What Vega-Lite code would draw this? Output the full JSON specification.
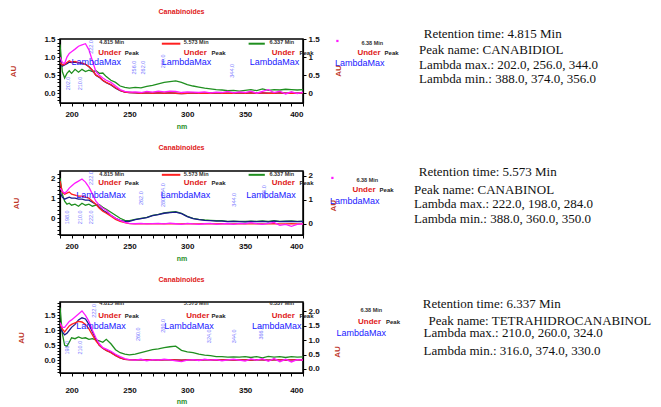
{
"$schema": "https://vega.github.io/schema/vega-lite/v6.json",
"padding": {"left": 9, "top": 7, "right": 0, "bottom": 0},
"spacing": 13,
"config": {
  "view": {"stroke": null},
  "axis": {"labelFont": "Liberation Sans", "labelFontWeight": "bold", "labelFontSize": 8, "labelColor": "#111", "tickColor": "#000", "domainColor": "#000", "domainWidth": 1.2, "grid": false, "tickSize": 3, "titleFont": "Liberation Sans", "labelPadding": 2},
  "title": {"font": "Liberation Sans"}
},
"datasets": {
  "spec": [
{"p":1,"x":190,"g":1.35,"n":0.9,"r":0.85,"m":1.0},{"p":1,"x":192,"g":0.6,"n":0.75,"r":0.78,"m":0.85},{"p":1,"x":194,"g":0.42,"n":0.78,"r":0.8,"m":0.82},{"p":1,"x":196,"g":0.55,"n":0.82,"r":0.85,"m":1.0},{"p":1,"x":198,"g":0.62,"n":0.86,"r":0.9,"m":1.1},{"p":1,"x":200,"g":0.55,"n":0.85,"r":0.86,"m":1.15},{"p":1,"x":203,"g":0.66,"n":0.86,"r":0.88,"m":1.22},{"p":1,"x":206,"g":0.58,"n":0.84,"r":0.85,"m":1.3},{"p":1,"x":209,"g":0.66,"n":0.82,"r":0.84,"m":1.34},{"p":1,"x":212,"g":0.6,"n":0.8,"r":0.8,"m":1.37},{"p":1,"x":215,"g":0.64,"n":0.73,"r":0.74,"m":1.2},{"p":1,"x":218,"g":0.6,"n":0.63,"r":0.64,"m":0.9},{"p":1,"x":221,"g":0.62,"n":0.5,"r":0.5,"m":0.6},{"p":1,"x":224,"g":0.55,"n":0.44,"r":0.45,"m":0.5},{"p":1,"x":227,"g":0.56,"n":0.35,"r":0.36,"m":0.42},{"p":1,"x":230,"g":0.46,"n":0.29,"r":0.3,"m":0.36},{"p":1,"x":234,"g":0.36,"n":0.23,"r":0.24,"m":0.3},{"p":1,"x":238,"g":0.3,"n":0.14,"r":0.15,"m":0.2},{"p":1,"x":242,"g":0.2,"n":0.07,"r":0.08,"m":0.1},{"p":1,"x":246,"g":0.16,"n":0.03,"r":0.03,"m":0.05},{"p":1,"x":250,"g":0.14,"n":0.02,"r":0.02,"m":0.03},{"p":1,"x":255,"g":0.16,"n":0.01,"r":0.01,"m":0.04},{"p":1,"x":260,"g":0.15,"n":0.0,"r":0.0,"m":0.02},{"p":1,"x":265,"g":0.19,"n":0.01,"r":0.01,"m":0.05},{"p":1,"x":270,"g":0.22,"n":0.0,"r":0.0,"m":0.03},{"p":1,"x":275,"g":0.26,"n":0.01,"r":0.01,"m":0.06},{"p":1,"x":280,"g":0.3,"n":0.0,"r":0.0,"m":0.04},{"p":1,"x":285,"g":0.32,"n":0.01,"r":0.01,"m":0.06},{"p":1,"x":290,"g":0.34,"n":0.0,"r":0.0,"m":0.05},{"p":1,"x":295,"g":0.3,"n":-0.01,"r":-0.01,"m":0.02},{"p":1,"x":300,"g":0.24,"n":0.0,"r":0.0,"m":0.04},{"p":1,"x":305,"g":0.2,"n":0.01,"r":0.01,"m":0.03},{"p":1,"x":310,"g":0.17,"n":0.0,"r":0.0,"m":0.02},{"p":1,"x":315,"g":0.14,"n":0.0,"r":0.0,"m":0.04},{"p":1,"x":320,"g":0.12,"n":0.0,"r":0.0,"m":0.01},{"p":1,"x":325,"g":0.1,"n":0.01,"r":0.01,"m":0.03},{"p":1,"x":330,"g":0.09,"n":0.0,"r":0.0,"m":0.02},{"p":1,"x":335,"g":0.07,"n":0.0,"r":0.0,"m":0.05},{"p":1,"x":340,"g":0.08,"n":0.0,"r":0.0,"m":0.01},{"p":1,"x":345,"g":0.06,"n":0.01,"r":0.01,"m":0.04},{"p":1,"x":350,"g":0.08,"n":0.0,"r":0.0,"m":0.02},{"p":1,"x":355,"g":0.1,"n":0.01,"r":0.01,"m":0.06},{"p":1,"x":360,"g":0.07,"n":0.0,"r":0.0,"m":0.0},{"p":1,"x":365,"g":0.12,"n":0.01,"r":0.01,"m":0.05},{"p":1,"x":370,"g":0.08,"n":0.0,"r":0.0,"m":0.1},{"p":1,"x":375,"g":0.1,"n":0.0,"r":0.0,"m":0.02},{"p":1,"x":380,"g":0.09,"n":0.01,"r":0.01,"m":0.06},{"p":1,"x":385,"g":0.11,"n":0.0,"r":0.0,"m":-0.02},{"p":1,"x":390,"g":0.1,"n":0.0,"r":0.0,"m":0.04},{"p":1,"x":395,"g":0.09,"n":0.0,"r":0.0,"m":-0.01},{"p":1,"x":400,"g":0.1,"n":0.01,"r":0.01,"m":0.03},
{"p":2,"x":190,"g":2.0,"n":1.3,"r":1.85,"m":1.5},{"p":2,"x":192,"g":1.2,"n":1.05,"r":1.3,"m":1.35},{"p":2,"x":194,"g":0.85,"n":0.95,"r":1.2,"m":1.24},{"p":2,"x":196,"g":0.7,"n":1.0,"r":1.25,"m":1.35},{"p":2,"x":198,"g":0.75,"n":1.05,"r":1.3,"m":1.5},{"p":2,"x":200,"g":0.65,"n":1.0,"r":1.2,"m":1.6},{"p":2,"x":203,"g":0.7,"n":1.0,"r":1.15,"m":1.75},{"p":2,"x":206,"g":0.6,"n":0.95,"r":1.1,"m":1.85},{"p":2,"x":209,"g":0.75,"n":0.95,"r":1.1,"m":1.95},{"p":2,"x":212,"g":0.65,"n":0.9,"r":1.05,"m":1.8},{"p":2,"x":215,"g":0.7,"n":0.9,"r":1.0,"m":1.55},{"p":2,"x":218,"g":0.6,"n":0.8,"r":0.85,"m":1.2},{"p":2,"x":221,"g":0.65,"n":0.7,"r":0.7,"m":0.85},{"p":2,"x":224,"g":0.68,"n":0.55,"r":0.5,"m":0.65},{"p":2,"x":227,"g":0.55,"n":0.4,"r":0.35,"m":0.5},{"p":2,"x":230,"g":0.45,"n":0.3,"r":0.25,"m":0.4},{"p":2,"x":234,"g":0.3,"n":0.15,"r":0.1,"m":0.15},{"p":2,"x":238,"g":0.15,"n":0.0,"r":-0.05,"m":0.0},{"p":2,"x":242,"g":0.0,"n":-0.1,"r":-0.15,"m":-0.1},{"p":2,"x":246,"g":-0.1,"n":-0.15,"r":-0.22,"m":-0.2},{"p":2,"x":250,"g":-0.12,"n":-0.15,"r":-0.26,"m":-0.25},{"p":2,"x":255,"g":-0.05,"n":-0.07,"r":-0.27,"m":-0.27},{"p":2,"x":260,"g":0.0,"n":-0.02,"r":-0.27,"m":-0.25},{"p":2,"x":265,"g":0.05,"n":0.03,"r":-0.28,"m":-0.28},{"p":2,"x":270,"g":0.15,"n":0.13,"r":-0.27,"m":-0.26},{"p":2,"x":275,"g":0.2,"n":0.18,"r":-0.27,"m":-0.25},{"p":2,"x":280,"g":0.27,"n":0.25,"r":-0.28,"m":-0.28},{"p":2,"x":285,"g":0.3,"n":0.28,"r":-0.27,"m":-0.24},{"p":2,"x":290,"g":0.33,"n":0.31,"r":-0.28,"m":-0.27},{"p":2,"x":295,"g":0.25,"n":0.23,"r":-0.28,"m":-0.3},{"p":2,"x":300,"g":0.1,"n":0.08,"r":-0.27,"m":-0.25},{"p":2,"x":305,"g":0.0,"n":-0.02,"r":-0.28,"m":-0.28},{"p":2,"x":310,"g":-0.05,"n":-0.07,"r":-0.28,"m":-0.3},{"p":2,"x":315,"g":-0.08,"n":-0.1,"r":-0.27,"m":-0.27},{"p":2,"x":320,"g":-0.1,"n":-0.12,"r":-0.28,"m":-0.25},{"p":2,"x":325,"g":-0.12,"n":-0.14,"r":-0.28,"m":-0.3},{"p":2,"x":330,"g":-0.12,"n":-0.14,"r":-0.27,"m":-0.28},{"p":2,"x":335,"g":-0.15,"n":-0.17,"r":-0.28,"m":-0.26},{"p":2,"x":340,"g":-0.14,"n":-0.16,"r":-0.28,"m":-0.3},{"p":2,"x":345,"g":-0.15,"n":-0.17,"r":-0.27,"m":-0.25},{"p":2,"x":350,"g":-0.16,"n":-0.18,"r":-0.28,"m":-0.28},{"p":2,"x":355,"g":-0.14,"n":-0.16,"r":-0.28,"m":-0.22},{"p":2,"x":360,"g":-0.15,"n":-0.17,"r":-0.27,"m":-0.27},{"p":2,"x":365,"g":-0.13,"n":-0.15,"r":-0.28,"m":-0.3},{"p":2,"x":370,"g":-0.16,"n":-0.18,"r":-0.28,"m":-0.25},{"p":2,"x":375,"g":-0.12,"n":-0.14,"r":-0.27,"m":-0.2},{"p":2,"x":380,"g":-0.15,"n":-0.17,"r":-0.28,"m":-0.35},{"p":2,"x":385,"g":-0.14,"n":-0.16,"r":-0.28,"m":-0.3},{"p":2,"x":390,"g":-0.13,"n":-0.15,"r":-0.27,"m":-0.4},{"p":2,"x":395,"g":-0.15,"n":-0.17,"r":-0.28,"m":-0.3},{"p":2,"x":400,"g":-0.14,"n":-0.16,"r":-0.28,"m":-0.28},
{"p":3,"x":190,"g":1.76,"n":1.1,"r":1.2,"m":1.26},{"p":3,"x":192,"g":0.9,"n":0.95,"r":1.05,"m":1.1},{"p":3,"x":194,"g":0.5,"n":0.85,"r":0.95,"m":1.1},{"p":3,"x":196,"g":0.47,"n":0.9,"r":1.05,"m":1.2},{"p":3,"x":198,"g":0.6,"n":1.0,"r":1.15,"m":1.3},{"p":3,"x":200,"g":0.75,"n":1.1,"r":1.2,"m":1.35},{"p":3,"x":203,"g":0.72,"n":1.2,"r":1.25,"m":1.45},{"p":3,"x":206,"g":0.78,"n":1.35,"r":1.3,"m":1.55},{"p":3,"x":209,"g":0.73,"n":1.42,"r":1.28,"m":1.65},{"p":3,"x":212,"g":0.75,"n":1.38,"r":1.2,"m":1.5},{"p":3,"x":215,"g":0.7,"n":1.2,"r":1.05,"m":1.3},{"p":3,"x":218,"g":0.72,"n":0.95,"r":0.85,"m":1.0},{"p":3,"x":221,"g":0.68,"n":0.7,"r":0.65,"m":0.75},{"p":3,"x":224,"g":0.65,"n":0.5,"r":0.5,"m":0.55},{"p":3,"x":227,"g":0.6,"n":0.4,"r":0.4,"m":0.42},{"p":3,"x":230,"g":0.7,"n":0.33,"r":0.33,"m":0.37},{"p":3,"x":234,"g":0.55,"n":0.26,"r":0.25,"m":0.3},{"p":3,"x":238,"g":0.35,"n":0.16,"r":0.15,"m":0.2},{"p":3,"x":242,"g":0.25,"n":0.08,"r":0.08,"m":0.12},{"p":3,"x":246,"g":0.2,"n":0.03,"r":0.03,"m":0.05},{"p":3,"x":250,"g":0.18,"n":0.02,"r":0.01,"m":0.02},{"p":3,"x":255,"g":0.2,"n":0.01,"r":0.01,"m":0.0},{"p":3,"x":260,"g":0.25,"n":0.02,"r":0.02,"m":0.03},{"p":3,"x":265,"g":0.3,"n":0.01,"r":0.01,"m":-0.02},{"p":3,"x":270,"g":0.35,"n":0.01,"r":0.01,"m":0.02},{"p":3,"x":275,"g":0.38,"n":0.0,"r":0.0,"m":0.0},{"p":3,"x":280,"g":0.42,"n":0.01,"r":0.01,"m":0.03},{"p":3,"x":285,"g":0.45,"n":0.02,"r":0.02,"m":0.01},{"p":3,"x":290,"g":0.47,"n":0.01,"r":0.01,"m":-0.02},{"p":3,"x":295,"g":0.33,"n":0.0,"r":0.0,"m":-0.05},{"p":3,"x":300,"g":0.28,"n":0.01,"r":0.01,"m":0.0},{"p":3,"x":305,"g":0.25,"n":0.01,"r":0.01,"m":0.02},{"p":3,"x":310,"g":0.2,"n":0.0,"r":0.0,"m":-0.01},{"p":3,"x":315,"g":0.17,"n":0.01,"r":0.01,"m":0.03},{"p":3,"x":320,"g":0.15,"n":0.01,"r":0.01,"m":0.0},{"p":3,"x":325,"g":0.12,"n":0.0,"r":0.0,"m":0.02},{"p":3,"x":330,"g":0.12,"n":0.01,"r":0.01,"m":-0.02},{"p":3,"x":335,"g":0.1,"n":0.01,"r":0.01,"m":0.01},{"p":3,"x":340,"g":0.11,"n":0.0,"r":0.0,"m":0.03},{"p":3,"x":345,"g":0.1,"n":0.01,"r":0.01,"m":0.0},{"p":3,"x":350,"g":0.12,"n":0.01,"r":0.01,"m":-0.03},{"p":3,"x":355,"g":0.09,"n":0.0,"r":0.0,"m":0.04},{"p":3,"x":360,"g":0.12,"n":0.01,"r":0.01,"m":0.0},{"p":3,"x":365,"g":0.08,"n":0.01,"r":0.01,"m":0.05},{"p":3,"x":370,"g":0.13,"n":0.0,"r":0.0,"m":-0.04},{"p":3,"x":375,"g":0.1,"n":0.01,"r":0.01,"m":0.06},{"p":3,"x":380,"g":0.12,"n":0.01,"r":0.01,"m":-0.05},{"p":3,"x":385,"g":0.09,"n":0.0,"r":0.0,"m":0.03},{"p":3,"x":390,"g":0.12,"n":0.01,"r":0.01,"m":-0.06},{"p":3,"x":395,"g":0.1,"n":0.01,"r":0.01,"m":0.02},{"p":3,"x":400,"g":0.11,"n":0.0,"r":0.0,"m":0.0}
  ],
  "leg": [
{"p":1,"s":"r","x":278,"x2":294,"v":1.37},{"p":1,"s":"g","x":353,"x2":367,"v":1.37},
{"p":2,"s":"r","x":278,"x2":294,"v":2.16},{"p":2,"s":"g","x":353,"x2":367,"v":2.16}
  ],
  "ann": [
{"p":1,"k":"tm","x":224,"v":1.42,"t":"4.815 Min"},{"p":1,"k":"tm","x":297,"v":1.42,"t":"5.573 Min"},{"p":1,"k":"tm","x":371,"v":1.42,"t":"6.337 Min"},
{"p":1,"k":"und","x":223,"v":1.1,"t":"Under"},{"p":1,"k":"und","x":297,"v":1.1,"t":"Under"},{"p":1,"k":"und","x":373,"v":1.1,"t":"Under"},
{"p":1,"k":"pk","x":246,"v":1.1,"t":"Peak"},{"p":1,"k":"pk","x":321,"v":1.1,"t":"Peak"},{"p":1,"k":"pk","x":397,"v":1.1,"t":"Peak"},
{"p":1,"k":"lam","x":200,"v":0.86,"t":"LambdaMax"},{"p":1,"k":"lam","x":278,"v":0.86,"t":"LambdaMax"},{"p":1,"k":"lam","x":354,"v":0.86,"t":"LambdaMax"},
{"p":1,"k":"wl","x":197,"v":0.27,"t":"202.0"},{"p":1,"k":"wl","x":207,"v":0.27,"t":"210.0"},{"p":1,"k":"wl","x":217,"v":1.28,"t":"222.0"},{"p":1,"k":"wl","x":254,"v":0.71,"t":"256.0"},{"p":1,"k":"wl","x":262,"v":0.71,"t":"262.0"},{"p":1,"k":"wl","x":279,"v":0.88,"t":"280.0"},{"p":1,"k":"wl","x":339,"v":0.62,"t":"344.0"},
{"p":2,"k":"tm","x":224,"v":2.22,"t":"4.815 Min"},{"p":2,"k":"tm","x":297,"v":2.22,"t":"5.573 Min"},{"p":2,"k":"tm","x":371,"v":2.22,"t":"6.337 Min"},
{"p":2,"k":"und","x":223,"v":1.75,"t":"Under"},{"p":2,"k":"und","x":297,"v":1.75,"t":"Under"},{"p":2,"k":"und","x":373,"v":1.75,"t":"Under"},
{"p":2,"k":"pk","x":246,"v":1.75,"t":"Peak"},{"p":2,"k":"pk","x":321,"v":1.75,"t":"Peak"},{"p":2,"k":"pk","x":397,"v":1.75,"t":"Peak"},
{"p":2,"k":"lam","x":204,"v":1.16,"t":"LambdaMax"},{"p":2,"k":"lam","x":277,"v":1.16,"t":"LambdaMax"},{"p":2,"k":"lam","x":351,"v":1.16,"t":"LambdaMax"},
{"p":2,"k":"wl","x":196,"v":0.05,"t":"198.0"},{"p":2,"k":"wl","x":207,"v":0.05,"t":"210.0"},{"p":2,"k":"wl","x":217,"v":2.0,"t":"222.0"},{"p":2,"k":"wl","x":217,"v":0.05,"t":"222.0"},{"p":2,"k":"wl","x":260,"v":1.0,"t":"262.0"},{"p":2,"k":"wl","x":279,"v":1.4,"t":"284.0"},{"p":2,"k":"wl","x":279,"v":0.9,"t":"280.0"},{"p":2,"k":"wl","x":340,"v":0.92,"t":"344.0"},{"p":2,"k":"wl","x":366,"v":1.3,"t":"366.0"},
{"p":3,"k":"tm","x":224,"v":1.91,"t":"4.815 Min"},{"p":3,"k":"tm","x":297,"v":1.91,"t":"5.573 Min"},{"p":3,"k":"tm","x":371,"v":1.91,"t":"6.337 Min"},
{"p":3,"k":"und","x":223,"v":1.48,"t":"Under"},{"p":3,"k":"und","x":299,"v":1.48,"t":"Under"},{"p":3,"k":"und","x":373,"v":1.48,"t":"Under"},
{"p":3,"k":"pk","x":246,"v":1.48,"t":"Peak"},{"p":3,"k":"pk","x":321,"v":1.48,"t":"Peak"},{"p":3,"k":"pk","x":397,"v":1.48,"t":"Peak"},
{"p":3,"k":"lam","x":204,"v":1.15,"t":"LambdaMax"},{"p":3,"k":"lam","x":280,"v":1.15,"t":"LambdaMax"},{"p":3,"k":"lam","x":356,"v":1.15,"t":"LambdaMax"},
{"p":3,"k":"wl","x":196,"v":0.42,"t":"198.0"},{"p":3,"k":"wl","x":207,"v":0.42,"t":"210.0"},{"p":3,"k":"wl","x":219,"v":1.65,"t":"222.0"},{"p":3,"k":"wl","x":257,"v":0.87,"t":"260.0"},{"p":3,"k":"wl","x":279,"v":1.15,"t":"280.0"},{"p":3,"k":"wl","x":319,"v":0.8,"t":"324.0"},{"p":3,"k":"wl","x":340,"v":0.8,"t":"344.0"},{"p":3,"k":"wl","x":364,"v":0.92,"t":"366.0"}
  ],
  "info": [
{"p":1,"k":"info","c":1.11,"l":1.0,"t":"Retention time: 4.815 Min"},{"p":1,"k":"info","c":1.05,"l":2.05,"t":"Peak name: CANABIDIOL"},{"p":1,"k":"info","c":1.05,"l":3.03,"t":"Lambda max.: 202.0, 256.0, 344.0"},{"p":1,"k":"info","c":1.05,"l":4.01,"t":"Lambda min.: 388.0, 374.0, 356.0"},
{"p":1,"k":"dot","c":0.03,"l":1.46,"t":""},{"p":1,"k":"tm","c":0.33,"l":1.6,"t":"6.38 Min"},{"p":1,"k":"und","c":0.28,"l":2.25,"t":"Under"},{"p":1,"k":"pk","c":0.62,"l":2.25,"t":"Peak"},{"p":1,"k":"lam","c":0.0,"l":2.9,"t":"LambdaMax"},{"p":1,"k":"sq","c":0.05,"l":3.45,"t":"AU"},
{"p":2,"k":"info","c":1.11,"l":1.0,"t":"Retention time: 5.573 Min"},{"p":2,"k":"info","c":1.05,"l":2.18,"t":"Peak name: CANABINOL"},{"p":2,"k":"info","c":1.05,"l":3.16,"t":"Lambda max.: 222.0, 198.0, 284.0"},{"p":2,"k":"info","c":1.05,"l":4.14,"t":"Lambda min.: 388.0, 360.0, 350.0"},
{"p":2,"k":"dot","c":0.03,"l":1.4,"t":""},{"p":2,"k":"tm","c":0.33,"l":1.53,"t":"6.38 Min"},{"p":2,"k":"und","c":0.28,"l":2.18,"t":"Under"},{"p":2,"k":"pk","c":0.62,"l":2.18,"t":"Peak"},{"p":2,"k":"lam","c":0.0,"l":2.96,"t":"LambdaMax"},{"p":2,"k":"sq","c":0.05,"l":3.25,"t":"AU"},
{"p":3,"k":"info","c":1.11,"l":1.07,"t":"Retention time: 6.337 Min"},{"p":3,"k":"info","c":1.18,"l":2.18,"t":"Peak name: TETRAHIDROCANABINOL"},{"p":3,"k":"info","c":1.12,"l":2.96,"t":"Lambda max.: 210.0, 260.0, 324.0"},{"p":3,"k":"info","c":1.12,"l":4.14,"t":"Lambda min.: 316.0, 374.0, 330.0"},
{"p":3,"k":"tm","c":0.33,"l":1.46,"t":"6.38 Min"},{"p":3,"k":"und","c":0.3,"l":2.25,"t":"Under"},{"p":3,"k":"pk","c":0.65,"l":2.25,"t":"Peak"},{"p":3,"k":"lam","c":0.03,"l":2.96,"t":"LambdaMax"},{"p":3,"k":"sq","c":0.05,"l":4.2,"t":"AU"}
  ]
},
"vconcat": [
 {"hconcat": [
  {"width": 243, "height": 64,
   "view": {"stroke": "black", "strokeWidth": 1.5},
   "title": {"text": "Canabinoides", "color": "#e02020", "fontSize": 7, "fontWeight": "bold", "offset": 20},
   "layer": [
    {"encoding": {
      "x": {"field": "x", "type": "quantitative", "scale": {"domain": [190, 400], "nice": false, "zero": false},
            "axis": {"title": "nm", "titleColor": "#1f8f1f", "titleFontSize": 7, "titleFontWeight": "bold", "titlePadding": 4, "values": [190,200,210,220,230,240,250,260,270,280,290,300,310,320,330,340,350,360,370,380,390,400], "labelExpr": "datum.value % 50 == 0 ? datum.label : ''", "labelPadding": 4}},
      "y": {"field": "v", "type": "quantitative", "scale": {"domain": [-0.27, 1.5], "nice": false, "zero": false},
            "axis": {"title": "AU", "titleColor": "#c0392b", "titleFontSize": 8, "titleFontWeight": "bold", "titlePadding": 26, "values": [-0.2,-0.1,0,0.1,0.2,0.3,0.4,0.5,0.6,0.7,0.8,0.9,1,1.1,1.2,1.3,1.4,1.5], "labelExpr": "abs(datum.value*2 - round(datum.value*2)) < 0.001 ? format(datum.value, '.1f') : ''"}}
     },
     "layer": [
      {"data": {"name": "spec"}, "transform": [{"filter": "datum.p == 1"}, {"fold": ["g", "n", "r", "m"], "as": ["s", "v"]}],
       "mark": {"type": "line", "strokeWidth": 1.3, "clip": true},
       "encoding": {"color": {"field": "s", "type": "nominal", "scale": {"domain": ["g", "n", "r", "m"], "range": ["#1f8f1f", "#1a1a8c", "#ff2020", "#ff1aff"]}, "legend": null}}},
      {"data": {"name": "leg"}, "transform": [{"filter": "datum.p == 1"}],
       "mark": {"type": "rule", "strokeWidth": 2},
       "encoding": {"x2": {"field": "x2"}, "color": {"field": "s", "type": "nominal", "legend": null}}},
      {"data": {"name": "ann"}, "transform": [{"filter": "datum.p == 1 && datum.k == 'tm'"}],
       "mark": {"type": "text", "align": "left", "baseline": "middle", "fontSize": 5.5, "fontWeight": "bold", "font": "Liberation Sans", "color": "#333"},
       "encoding": {"text": {"field": "t"}}},
      {"data": {"name": "ann"}, "transform": [{"filter": "datum.p == 1 && datum.k == 'und'"}],
       "mark": {"type": "text", "align": "left", "baseline": "middle", "fontSize": 8, "fontWeight": "bold", "font": "Liberation Sans", "color": "#e02020"},
       "encoding": {"text": {"field": "t"}}},
      {"data": {"name": "ann"}, "transform": [{"filter": "datum.p == 1 && datum.k == 'pk'"}],
       "mark": {"type": "text", "align": "left", "baseline": "middle", "fontSize": 6, "fontWeight": "bold", "font": "Liberation Sans", "color": "#222"},
       "encoding": {"text": {"field": "t"}}},
      {"data": {"name": "ann"}, "transform": [{"filter": "datum.p == 1 && datum.k == 'lam'"}],
       "mark": {"type": "text", "align": "left", "baseline": "middle", "fontSize": 9, "font": "Liberation Sans", "color": "#2020ff"},
       "encoding": {"text": {"field": "t"}}},
      {"data": {"name": "ann"}, "transform": [{"filter": "datum.p == 1 && datum.k == 'wl'"}],
       "mark": {"type": "text", "align": "center", "baseline": "middle", "angle": 270, "fontSize": 5.5, "font": "Liberation Sans", "color": "#4040ff", "opacity": 0.7},
       "encoding": {"text": {"field": "t"}}}
     ]},
    {"data": {"name": "spec"}, "transform": [{"filter": "datum.p == 1"}],
     "mark": {"type": "rule", "opacity": 0},
     "encoding": {
      "y": {"field": "m", "type": "quantitative", "scale": {"domain": [-0.27, 1.5], "nice": false, "zero": false}, "axis": {"orient": "right", "title": null, "values": [0, 0.5, 1, 1.5], "format": "~g"}}}}
   ],
   "resolve": {"scale": {"y": "independent"}}
  },
  {"width": 320, "height": 64,
   "encoding": {
     "x": {"field": "c", "type": "quantitative", "scale": {"domain": [0, 4]}, "axis": null},
     "y": {"field": "l", "type": "quantitative", "scale": {"domain": [1.33, 5.58], "reverse": true, "zero": false, "nice": false}, "axis": null}},
   "layer": [
    {"data": {"name": "info"}, "transform": [{"filter": "datum.p == 1 && datum.k == 'info'"}],
     "mark": {"type": "text", "align": "left", "baseline": "middle", "font": "Liberation Serif", "fontSize": 13, "color": "#111"},
     "encoding": {"text": {"field": "t"}}},
    {"data": {"name": "info"}, "transform": [{"filter": "datum.p == 1 && datum.k == 'dot'"}],
     "mark": {"type": "square", "size": 5, "color": "#ff1aff", "opacity": 1}},
    {"data": {"name": "info"}, "transform": [{"filter": "datum.p == 1 && datum.k == 'tm'"}],
     "mark": {"type": "text", "align": "left", "baseline": "middle", "fontSize": 5.5, "fontWeight": "bold", "font": "Liberation Sans", "color": "#333"},
     "encoding": {"text": {"field": "t"}}},
    {"data": {"name": "info"}, "transform": [{"filter": "datum.p == 1 && datum.k == 'und'"}],
     "mark": {"type": "text", "align": "left", "baseline": "middle", "fontSize": 8, "fontWeight": "bold", "font": "Liberation Sans", "color": "#e02020"},
     "encoding": {"text": {"field": "t"}}},
    {"data": {"name": "info"}, "transform": [{"filter": "datum.p == 1 && datum.k == 'pk'"}],
     "mark": {"type": "text", "align": "left", "baseline": "middle", "fontSize": 6, "fontWeight": "bold", "font": "Liberation Sans", "color": "#222"},
     "encoding": {"text": {"field": "t"}}},
    {"data": {"name": "info"}, "transform": [{"filter": "datum.p == 1 && datum.k == 'lam'"}],
     "mark": {"type": "text", "align": "left", "baseline": "middle", "fontSize": 9, "font": "Liberation Sans", "color": "#2020ff"},
     "encoding": {"text": {"field": "t"}}},
    {"data": {"name": "info"}, "transform": [{"filter": "datum.p == 1 && datum.k == 'sq'"}],
     "mark": {"type": "text", "align": "center", "baseline": "middle", "angle": 270, "fontSize": 8, "fontWeight": "bold", "font": "Liberation Sans", "color": "#c0392b"},
     "encoding": {"text": {"field": "t"}}}
   ]}
 ], "spacing": 14},
 {"hconcat": [
  {"width": 243, "height": 64,
   "view": {"stroke": "black", "strokeWidth": 1.5},
   "title": {"text": "Canabinoides", "color": "#e02020", "fontSize": 7, "fontWeight": "bold", "offset": 20},
   "layer": [
    {"encoding": {
      "x": {"field": "x", "type": "quantitative", "scale": {"domain": [190, 400], "nice": false, "zero": false},
            "axis": {"title": "nm", "titleColor": "#1f8f1f", "titleFontSize": 7, "titleFontWeight": "bold", "titlePadding": 4, "values": [190,200,210,220,230,240,250,260,270,280,290,300,310,320,330,340,350,360,370,380,390,400], "labelExpr": "datum.value % 50 == 0 ? datum.label : ''", "labelPadding": 4}},
      "y": {"field": "v", "type": "quantitative", "scale": {"domain": [-0.83, 2.35], "nice": false, "zero": false},
            "axis": {"title": "AU", "titleColor": "#c0392b", "titleFontSize": 8, "titleFontWeight": "bold", "titlePadding": 30, "values": [-0.8,-0.6,-0.4,-0.2,0,0.2,0.4,0.6,0.8,1,1.2,1.4,1.6,1.8,2,2.2], "labelExpr": "abs(datum.value - round(datum.value)) < 0.001 ? format(datum.value, 'd') : ''"}}
     },
     "layer": [
      {"data": {"name": "spec"}, "transform": [{"filter": "datum.p == 2"}, {"fold": ["g", "n", "r", "m"], "as": ["s", "v"]}],
       "mark": {"type": "line", "strokeWidth": 1.3, "clip": true},
       "encoding": {"color": {"field": "s", "type": "nominal", "scale": {"domain": ["g", "n", "r", "m"], "range": ["#1f8f1f", "#1a1a8c", "#ff2020", "#ff1aff"]}, "legend": null}}},
      {"data": {"name": "leg"}, "transform": [{"filter": "datum.p == 2"}],
       "mark": {"type": "rule", "strokeWidth": 2},
       "encoding": {"x2": {"field": "x2"}, "color": {"field": "s", "type": "nominal", "legend": null}}},
      {"data": {"name": "ann"}, "transform": [{"filter": "datum.p == 2 && datum.k == 'tm'"}],
       "mark": {"type": "text", "align": "left", "baseline": "middle", "fontSize": 5.5, "fontWeight": "bold", "font": "Liberation Sans", "color": "#333"},
       "encoding": {"text": {"field": "t"}}},
      {"data": {"name": "ann"}, "transform": [{"filter": "datum.p == 2 && datum.k == 'und'"}],
       "mark": {"type": "text", "align": "left", "baseline": "middle", "fontSize": 8, "fontWeight": "bold", "font": "Liberation Sans", "color": "#e02020"},
       "encoding": {"text": {"field": "t"}}},
      {"data": {"name": "ann"}, "transform": [{"filter": "datum.p == 2 && datum.k == 'pk'"}],
       "mark": {"type": "text", "align": "left", "baseline": "middle", "fontSize": 6, "fontWeight": "bold", "font": "Liberation Sans", "color": "#222"},
       "encoding": {"text": {"field": "t"}}},
      {"data": {"name": "ann"}, "transform": [{"filter": "datum.p == 2 && datum.k == 'lam'"}],
       "mark": {"type": "text", "align": "left", "baseline": "middle", "fontSize": 9, "font": "Liberation Sans", "color": "#2020ff"},
       "encoding": {"text": {"field": "t"}}},
      {"data": {"name": "ann"}, "transform": [{"filter": "datum.p == 2 && datum.k == 'wl'"}],
       "mark": {"type": "text", "align": "center", "baseline": "middle", "angle": 270, "fontSize": 5.5, "font": "Liberation Sans", "color": "#4040ff", "opacity": 0.7},
       "encoding": {"text": {"field": "t"}}}
     ]},
    {"data": {"name": "spec"}, "transform": [{"filter": "datum.p == 2"}],
     "mark": {"type": "rule", "opacity": 0},
     "encoding": {
      "y": {"field": "m", "type": "quantitative", "scale": {"domain": [-0.47, 2.2], "nice": false, "zero": false}, "axis": {"orient": "right", "title": null, "values": [0, 1, 2], "format": "d"}}}}
   ],
   "resolve": {"scale": {"y": "independent"}}
  },
  {"width": 320, "height": 64,
   "encoding": {
     "x": {"field": "c", "type": "quantitative", "scale": {"domain": [0, 4]}, "axis": null},
     "y": {"field": "l", "type": "quantitative", "scale": {"domain": [0.94, 5.19], "reverse": true, "zero": false, "nice": false}, "axis": null}},
   "layer": [
    {"data": {"name": "info"}, "transform": [{"filter": "datum.p == 2 && datum.k == 'info'"}],
     "mark": {"type": "text", "align": "left", "baseline": "middle", "font": "Liberation Serif", "fontSize": 13, "color": "#111"},
     "encoding": {"text": {"field": "t"}}},
    {"data": {"name": "info"}, "transform": [{"filter": "datum.p == 2 && datum.k == 'dot'"}],
     "mark": {"type": "square", "size": 5, "color": "#ff1aff", "opacity": 1}},
    {"data": {"name": "info"}, "transform": [{"filter": "datum.p == 2 && datum.k == 'tm'"}],
     "mark": {"type": "text", "align": "left", "baseline": "middle", "fontSize": 5.5, "fontWeight": "bold", "font": "Liberation Sans", "color": "#333"},
     "encoding": {"text": {"field": "t"}}},
    {"data": {"name": "info"}, "transform": [{"filter": "datum.p == 2 && datum.k == 'und'"}],
     "mark": {"type": "text", "align": "left", "baseline": "middle", "fontSize": 8, "fontWeight": "bold", "font": "Liberation Sans", "color": "#e02020"},
     "encoding": {"text": {"field": "t"}}},
    {"data": {"name": "info"}, "transform": [{"filter": "datum.p == 2 && datum.k == 'pk'"}],
     "mark": {"type": "text", "align": "left", "baseline": "middle", "fontSize": 6, "fontWeight": "bold", "font": "Liberation Sans", "color": "#222"},
     "encoding": {"text": {"field": "t"}}},
    {"data": {"name": "info"}, "transform": [{"filter": "datum.p == 2 && datum.k == 'lam'"}],
     "mark": {"type": "text", "align": "left", "baseline": "middle", "fontSize": 9, "font": "Liberation Sans", "color": "#2020ff"},
     "encoding": {"text": {"field": "t"}}},
    {"data": {"name": "info"}, "transform": [{"filter": "datum.p == 2 && datum.k == 'sq'"}],
     "mark": {"type": "text", "align": "center", "baseline": "middle", "angle": 270, "fontSize": 8, "fontWeight": "bold", "font": "Liberation Sans", "color": "#c0392b"},
     "encoding": {"text": {"field": "t"}}}
   ]}
 ], "spacing": 14},
 {"hconcat": [
  {"width": 243, "height": 71,
   "view": {"stroke": "black", "strokeWidth": 1.5},
   "title": {"text": "Canabinoides", "color": "#e02020", "fontSize": 7, "fontWeight": "bold", "offset": 18},
   "layer": [
    {"encoding": {
      "x": {"field": "x", "type": "quantitative", "scale": {"domain": [190, 400], "nice": false, "zero": false},
            "axis": {"title": "nm", "titleColor": "#1f8f1f", "titleFontSize": 7, "titleFontWeight": "bold", "titlePadding": 3, "values": [190,200,210,220,230,240,250,260,270,280,290,300,310,320,330,340,350,360,370,380,390,400], "labelExpr": "datum.value % 50 == 0 ? datum.label : ''", "labelPadding": 10}},
      "y": {"field": "v", "type": "quantitative", "scale": {"domain": [-0.43, 1.95], "nice": false, "zero": false},
            "axis": {"title": "AU", "titleColor": "#c0392b", "titleFontSize": 8, "titleFontWeight": "bold", "titlePadding": 18, "values": [-0.4,-0.3,-0.2,-0.1,0,0.1,0.2,0.3,0.4,0.5,0.6,0.7,0.8,0.9,1,1.1,1.2,1.3,1.4,1.5,1.6,1.7,1.8,1.9], "labelExpr": "abs(datum.value*2 - round(datum.value*2)) < 0.001 ? format(datum.value, '.1f') : ''"}}
     },
     "layer": [
      {"data": {"name": "spec"}, "transform": [{"filter": "datum.p == 3"}, {"fold": ["g", "n", "r", "m"], "as": ["s", "v"]}],
       "mark": {"type": "line", "strokeWidth": 1.3, "clip": true},
       "encoding": {"color": {"field": "s", "type": "nominal", "scale": {"domain": ["g", "n", "r", "m"], "range": ["#1f8f1f", "#1a1a8c", "#ff2020", "#ff1aff"]}, "legend": null}}},
      {"data": {"name": "ann"}, "transform": [{"filter": "datum.p == 3 && datum.k == 'tm'"}],
       "mark": {"type": "text", "align": "left", "baseline": "middle", "fontSize": 5.5, "fontWeight": "bold", "font": "Liberation Sans", "color": "#333"},
       "encoding": {"text": {"field": "t"}}},
      {"data": {"name": "ann"}, "transform": [{"filter": "datum.p == 3 && datum.k == 'und'"}],
       "mark": {"type": "text", "align": "left", "baseline": "middle", "fontSize": 8, "fontWeight": "bold", "font": "Liberation Sans", "color": "#e02020"},
       "encoding": {"text": {"field": "t"}}},
      {"data": {"name": "ann"}, "transform": [{"filter": "datum.p == 3 && datum.k == 'pk'"}],
       "mark": {"type": "text", "align": "left", "baseline": "middle", "fontSize": 6, "fontWeight": "bold", "font": "Liberation Sans", "color": "#222"},
       "encoding": {"text": {"field": "t"}}},
      {"data": {"name": "ann"}, "transform": [{"filter": "datum.p == 3 && datum.k == 'lam'"}],
       "mark": {"type": "text", "align": "left", "baseline": "middle", "fontSize": 9, "font": "Liberation Sans", "color": "#2020ff"},
       "encoding": {"text": {"field": "t"}}},
      {"data": {"name": "ann"}, "transform": [{"filter": "datum.p == 3 && datum.k == 'wl'"}],
       "mark": {"type": "text", "align": "center", "baseline": "middle", "angle": 270, "fontSize": 5.5, "font": "Liberation Sans", "color": "#4040ff", "opacity": 0.7},
       "encoding": {"text": {"field": "t"}}}
     ]},
    {"data": {"name": "spec"}, "transform": [{"filter": "datum.p == 3"}],
     "mark": {"type": "rule", "opacity": 0},
     "encoding": {
      "y": {"field": "m", "type": "quantitative", "scale": {"domain": [-0.14, 2.33], "nice": false, "zero": false}, "axis": {"orient": "right", "title": null, "values": [0, 0.5, 1, 1.5, 2], "format": ".1f"}}}}
   ],
   "resolve": {"scale": {"y": "independent"}}
  },
  {"width": 320, "height": 71,
   "encoding": {
     "x": {"field": "c", "type": "quantitative", "scale": {"domain": [0, 4]}, "axis": null},
     "y": {"field": "l", "type": "quantitative", "scale": {"domain": [0.94, 5.58], "reverse": true, "zero": false, "nice": false}, "axis": null}},
   "layer": [
    {"data": {"name": "info"}, "transform": [{"filter": "datum.p == 3 && datum.k == 'info'"}],
     "mark": {"type": "text", "align": "left", "baseline": "middle", "font": "Liberation Serif", "fontSize": 13, "color": "#111"},
     "encoding": {"text": {"field": "t"}}},
    {"data": {"name": "info"}, "transform": [{"filter": "datum.p == 3 && datum.k == 'tm'"}],
     "mark": {"type": "text", "align": "left", "baseline": "middle", "fontSize": 5.5, "fontWeight": "bold", "font": "Liberation Sans", "color": "#333"},
     "encoding": {"text": {"field": "t"}}},
    {"data": {"name": "info"}, "transform": [{"filter": "datum.p == 3 && datum.k == 'und'"}],
     "mark": {"type": "text", "align": "left", "baseline": "middle", "fontSize": 8, "fontWeight": "bold", "font": "Liberation Sans", "color": "#e02020"},
     "encoding": {"text": {"field": "t"}}},
    {"data": {"name": "info"}, "transform": [{"filter": "datum.p == 3 && datum.k == 'pk'"}],
     "mark": {"type": "text", "align": "left", "baseline": "middle", "fontSize": 6, "fontWeight": "bold", "font": "Liberation Sans", "color": "#222"},
     "encoding": {"text": {"field": "t"}}},
    {"data": {"name": "info"}, "transform": [{"filter": "datum.p == 3 && datum.k == 'lam'"}],
     "mark": {"type": "text", "align": "left", "baseline": "middle", "fontSize": 9, "font": "Liberation Sans", "color": "#2020ff"},
     "encoding": {"text": {"field": "t"}}},
    {"data": {"name": "info"}, "transform": [{"filter": "datum.p == 3 && datum.k == 'sq'"}],
     "mark": {"type": "text", "align": "center", "baseline": "middle", "angle": 270, "fontSize": 8, "fontWeight": "bold", "font": "Liberation Sans", "color": "#c0392b"},
     "encoding": {"text": {"field": "t"}}}
   ]}
 ], "spacing": 14}
]
}
